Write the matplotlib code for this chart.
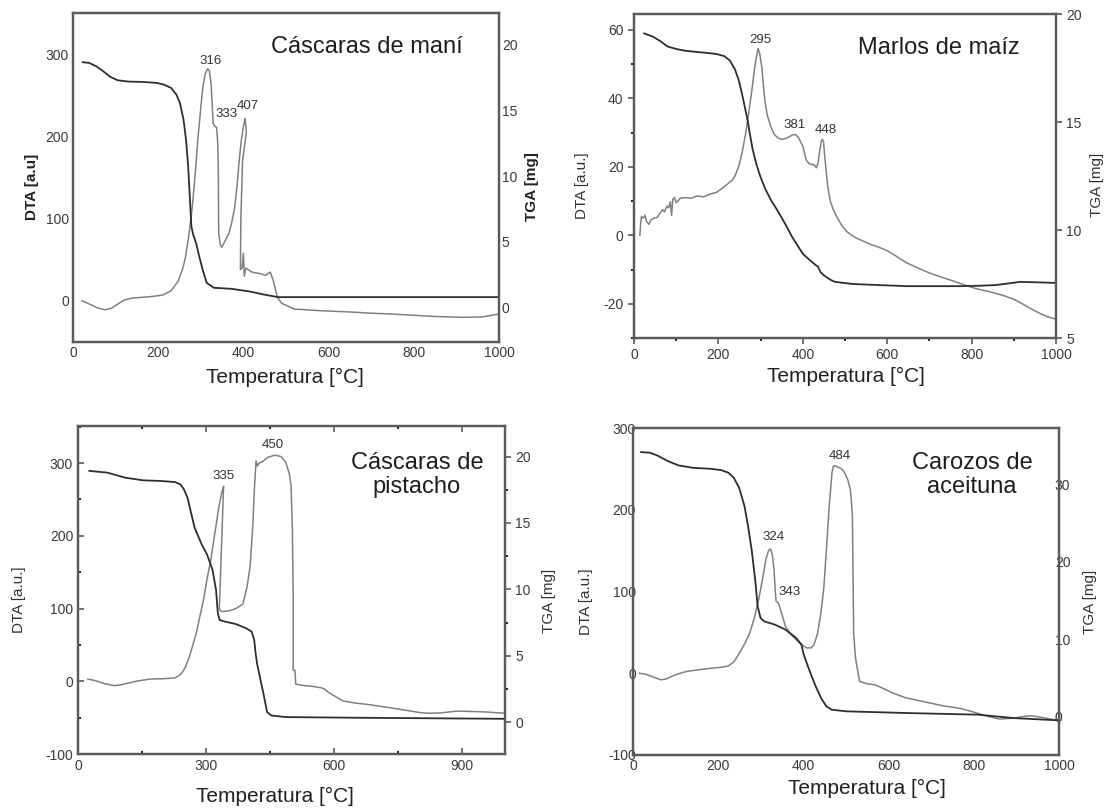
import matplotlib
matplotlib.use("Agg")
import matplotlib.pyplot as plt
from matplotlib.ticker import MultipleLocator

plt.rcParams['font.family'] = ['Liberation Sans', 'DejaVu Sans']
plt.rcParams['axes.unicode_minus'] = False

W, H = 1107, 810

# ---------------- data ----------------
# Panel 1: Cáscaras de maní
mani_dta_t = [21, 35, 55, 75, 90, 105, 120, 140, 180, 210, 230, 247, 258, 264, 272, 280, 287, 293, 300, 305,
              311, 316, 320, 324, 329, 333, 337, 340, 341, 342, 346, 349, 354, 360, 366, 372, 379, 385, 390,
              395, 400, 404, 407, 398, 394, 393, 397, 400, 402, 406, 420, 440, 452, 463, 470, 480, 490,
              520, 582, 650, 700, 749, 800, 850, 916, 960, 1000]
mani_dta = [0, -3, -8, -11, -9, -4, 1, 3.5, 5, 7, 12, 24, 40, 53, 80, 114, 155, 196, 235, 261,
            277, 282, 280, 265, 216, 212, 211, 190, 163, 82, 68, 65, 70, 76, 82, 94, 112, 139, 170,
            195, 212, 222, 205, 170, 100, 38, 40, 58, 30, 40, 35, 33, 31, 35, 25, 4, -3,
            -10, -12, -13.5, -15, -16, -17.5, -19, -20, -19.5, -16]
mani_tga_t = [22.6, 37.7, 54.4, 71.1, 87.9, 104.6, 129.7, 163.2, 196.7, 213.4, 230.1, 242.7, 251, 259.4,
              265.3, 270.3, 274.5, 277.8, 282, 288.7, 297.1, 305.4, 313.8, 330.5, 372.4, 414.2, 447.7,
              481.2, 1000]
mani_tga = [18.66, 18.61, 18.35, 17.97, 17.54, 17.29, 17.19, 17.16, 17.09, 16.96, 16.71, 16.2, 15.57, 14.3,
            12.78, 10.76, 8.23, 6.2, 5.57, 4.94, 3.8, 2.78, 1.9, 1.52, 1.44, 1.24, 1.01, 0.81, 0.81]
mani_peaks = ["316", "333", "407"]
mani_peak_pos = [(322, 292), (360, 227), (410, 237)]

# Panel 2: Marlos de maíz
marlo_dta_t = [14, 16, 18, 22, 26, 30, 35, 40, 48, 55, 62, 68, 72, 78, 82, 86, 89, 92, 96, 100, 110, 121, 135,
               150, 165, 180, 195, 210, 222, 232, 239, 248, 256, 265, 273, 280, 286, 290, 294, 298, 303, 307,
               311, 316, 324, 332, 341, 350, 358, 366, 375, 383, 390, 396, 400, 404, 408, 414, 421, 428, 432,
               436, 440, 444, 446, 449, 452, 456, 459, 465, 472, 480, 493, 505, 518, 530, 545, 560, 580, 600,
               620, 645, 670, 700, 730, 760, 790, 814, 840, 870, 899, 920, 941, 965, 985, 1000]
marlo_dta = [0, 4, 5.5, 5, 5.8, 4, 3.2, 4.5, 5, 5.2, 6.5, 7.5, 6.8, 8.5, 8, 9.8, 5.8, 10.5, 11, 9.5, 10.8, 11,
             10.8, 11.5, 11.2, 12, 12.5, 13.8, 15, 16, 17.3, 20, 24, 30, 36.7, 43, 49, 52, 54.5, 53, 49, 43,
             38.6, 35, 31.8, 29.5, 28.4, 28, 28.2, 28.6, 29.3, 29.4, 28.5, 27, 26, 24, 22, 21, 20.7, 20.5,
             19.7, 21, 24.6, 27.5, 28, 27.5, 23, 18, 14.4, 10, 7.6, 5.5, 2.7, 1, -0.2, -1, -1.8, -2.6, -3.5,
             -4.5, -6, -8, -9.4, -11, -12.3, -13.5, -14.8, -15.7, -16.4, -17.4, -18.6, -20, -21.5, -23, -24,
             -24.5]
marlo_tga_t = [24, 45, 62, 79, 100, 121, 150, 172, 195, 214, 227, 239, 248, 256, 262, 269, 275, 281, 290,
               298, 310, 324, 337, 349, 362, 374, 387, 400, 414, 429, 436, 442, 450, 459, 467, 476, 497, 518,
               580, 645, 710, 772, 820, 856, 885, 915, 950, 1000]
marlo_tga = [19.1, 18.95, 18.75, 18.5, 18.38, 18.3, 18.24, 18.2, 18.15, 18.05, 17.85, 17.45, 16.95, 16.3,
             15.75, 15.1, 14.4, 13.75, 13.05, 12.55, 11.95, 11.4, 11.0, 10.6, 10.15, 9.7, 9.3, 8.9, 8.65,
             8.4, 8.3, 8.05, 7.9, 7.78, 7.68, 7.6, 7.55, 7.5, 7.45, 7.4, 7.4, 7.4, 7.42, 7.45, 7.52, 7.6,
             7.58, 7.55]
marlo_peaks = ["295", "381", "448"]
marlo_peak_pos = [(300, 57), (381, 32.3), (455, 30.6)]

# Panel 3: Cáscaras de pistacho
pist_dta_t = [23, 40, 60, 85, 100, 119, 140, 169, 200, 227, 237, 244, 252, 261, 269, 277, 285, 294, 302, 311,
              317, 323, 330, 337, 341, 331, 335, 340, 355, 370, 386, 396, 403, 409, 413, 417, 420, 424, 432,
              445, 461, 475, 486, 495, 499, 502, 504, 504, 508, 510, 530, 550, 570, 578, 586, 600, 620, 650,
              680, 737, 780, 800, 820, 850, 887, 950, 1000]
pist_dta = [3, 1, -3, -6, -5, -2.3, 0.5, 3, 3.5, 4.6, 8, 12, 20, 34, 50, 66, 88, 112, 140, 167,
            190, 213, 240, 260, 268, 100, 96, 96, 97, 100, 106, 130, 158, 210, 263, 303, 296, 300, 302,
            308, 311, 309, 302, 285, 268, 210, 120, 15, 15, -4, -6, -7, -9, -11, -15, -20, -27, -30,
            -32, -37, -41, -43, -44, -43.5, -41, -42, -44]
pist_tga_t = [26.7, 68.5, 110.3, 152, 193.8, 227.2, 239.8, 248.1, 256.5, 264.8, 273.2, 281.5, 289.9, 302.4,
              314.9, 323.3, 327.5, 331.7, 344.2, 369.3, 394.3, 406.8, 412.7, 416, 419.4, 426, 434.4, 442.8,
              452.8, 486.2, 653.3, 1000]
pist_tga = [18.92, 18.79, 18.41, 18.21, 18.16, 18.08, 17.9, 17.53, 16.9, 15.76, 14.63, 14.0, 13.37, 12.61,
            11.48, 9.96, 8.2, 7.69, 7.57, 7.39, 7.06, 6.81, 6.18, 5.17, 4.41, 3.4, 2.14, 0.76,
            0.5, 0.38, 0.33, 0.25]
pist_peaks = ["335", "450"]
pist_peak_pos = [(340, 282), (457, 325)]

# Panel 4: Carozos de aceituna
acei_dta_t = [15, 28, 40, 55, 65, 78, 90, 105, 124, 150, 182, 210, 224, 237, 249, 262, 274, 285, 295, 304,
              312, 318, 323, 327, 331, 334, 336, 341, 348, 358, 370, 383, 395, 408, 418, 425, 433, 441, 448,
              454, 460, 467, 470, 475, 480, 487, 495, 504, 510, 512, 515, 518, 522, 525, 532, 550, 567, 585,
              609, 640, 684, 730, 768, 790, 809, 835, 860, 893, 915, 935, 960, 1000]
acei_dta = [0, -1, -3, -6, -8, -7, -4, -1, 2, 4, 6, 7.5, 9, 14, 24, 36, 49, 68, 90, 115,
            139, 150, 152, 145, 127, 100, 88, 86, 75, 57, 48, 41, 35, 31, 31, 35, 48, 73, 105,
            151, 200, 245, 253, 254, 252, 251, 247, 237, 225, 215, 192, 49, 20, 10, -10, -13, -14, -18,
            -24, -30, -35, -40, -43, -46, -49, -53, -56, -55, -53, -52, -54, -58]
acei_tga_t = [19.2, 40.1, 56.9, 81.9, 107, 140.5, 182.3, 207.4, 224.1, 236.6, 249.2, 261.7, 270.1, 278.4,
              286.8, 292.6, 299.3, 307.7, 332.8, 357.9, 382.9, 395.5, 399.7, 406.4, 416.4, 428.9, 441.5,
              454, 466.6, 500, 642.1, 809.4, 893, 1000]
acei_tga = [34.18, 34.1, 33.75, 33.02, 32.46, 32.15, 32.02, 31.85, 31.51, 30.86, 29.56, 27.19, 24.6, 21.58,
            17.69, 14.24, 12.73, 12.3, 11.87, 11.22, 10.14, 9.28, 8.2, 7.12, 5.61, 3.88, 2.37,
            1.29, 0.86, 0.65, 0.43, 0.22, -0.22, -0.52]
acei_peaks = ["324", "343", "484"]
acei_peak_pos = [(329, 167), (368, 99), (485, 266)]

# ---------------- figure ----------------
fig = plt.figure(figsize=(W / 100, H / 100), dpi=100)


def px(x, y):
    return x / W, 1 - y / H


def box(l, t, r, b):
    return [l / W, 1 - b / H, (r - l) / W, (b - t) / H]


DTA_C = '#808080'
TGA_C = '#2e2e2e'
SP_C = '#5a5a5a'
TICK_C = '#3a3a3a'


def make_panel(rect, dta_t, dta, tga_t, tga, ylim, y2lim, xt, yt, y2t, peaks, peak_pos, tickstyle):
    ax = fig.add_axes(rect)
    ax2 = ax.twinx()
    ax.plot(dta_t, dta, color=DTA_C, lw=1.1)
    ax2.plot(tga_t, tga, color=TGA_C, lw=1.3)
    ax.set_xlim(0, 1000)
    ax.set_ylim(*ylim)
    ax2.set_ylim(*y2lim)
    ax.set_xticks(xt)
    ax.set_yticks(yt)
    ax2.set_yticks(y2t)
    for a in (ax, ax2):
        for s in a.spines.values():
            s.set_color(SP_C)
            s.set_linewidth(1.6)
    ax.tick_params(labelsize=10, labelcolor=TICK_C, color=SP_C)
    ax2.tick_params(labelsize=10, labelcolor=TICK_C, color=SP_C)
    if tickstyle == 'none':
        ax.tick_params(axis='both', length=0, pad=3)
        ax2.tick_params(axis='y', length=0, pad=2)
    elif tickstyle == 'out':
        ax.tick_params(axis='both', which='major', direction='out', length=4, width=1.2)
        ax.tick_params(axis='both', which='minor', direction='out', length=2.5, width=1.2)
        ax2.tick_params(axis='y', which='major', direction='out', length=4, width=1.2)
    elif tickstyle == 'in':
        ax.tick_params(axis='both', which='major', direction='in', length=4, width=1.2, top=True)
        ax.tick_params(axis='both', which='minor', direction='in', length=2.5, width=1.2, top=True)
        ax2.tick_params(axis='y', which='major', direction='out', length=4, width=1.2)
        ax2.tick_params(axis='y', which='minor', direction='out', length=2.5, width=1.2)
    for lab, (x, y) in zip(peaks, peak_pos):
        ax.text(x, y, lab, fontsize=9.5, color='#333333', ha='center', va='center')
    return ax, ax2


# Panel 1
a1, b1 = make_panel(box(73, 13, 499, 342), mani_dta_t, mani_dta, mani_tga_t, mani_tga,
                    (-50, 350), (-2.6, 22.4), range(0, 1001, 200), [0, 100, 200, 300],
                    [0, 5, 10, 15, 20], mani_peaks, mani_peak_pos, 'none')

# Panel 2
a2, b2 = make_panel(box(634, 14, 1056, 338), marlo_dta_t, marlo_dta, marlo_tga_t, marlo_tga,
                    (-30, 64.6), (5, 20), range(0, 1001, 200), [-20, 0, 20, 40, 60],
                    [5, 10, 15, 20], marlo_peaks, marlo_peak_pos, 'out')
a2.xaxis.set_minor_locator(MultipleLocator(100))
a2.yaxis.set_minor_locator(MultipleLocator(10))

# Panel 3
a3, b3 = make_panel(box(78, 426, 505, 754), pist_dta_t, pist_dta, pist_tga_t, pist_tga,
                    (-100, 351), (-2.4, 22.3), [0, 300, 600, 900], [-100, 0, 100, 200, 300],
                    [0, 5, 10, 15, 20], pist_peaks, pist_peak_pos, 'in')
a3.xaxis.set_minor_locator(MultipleLocator(150))
a3.yaxis.set_minor_locator(MultipleLocator(50))
b3.yaxis.set_minor_locator(MultipleLocator(2.5))

# Panel 4
a4, b4 = make_panel(box(633, 428, 1059, 755), acei_dta_t, acei_dta, acei_tga_t, acei_tga,
                    (-100, 300), (-5, 37.3), range(0, 1001, 200), [-100, 0, 100, 200, 300],
                    [0, 10, 20, 30], acei_peaks, acei_peak_pos, 'none')
a4.tick_params(axis='y', pad=-2)
b4.tick_params(axis='y', pad=-3)

# ---------------- labels ----------------
def ftext(x, y, s, **kw):
    fig.text(*px(x, y), s, ha='center', va='center', **kw)


ftext(32, 187, 'DTA [a.u]', rotation=90, fontsize=11, fontweight='bold', color='#222222')
ftext(532, 187, 'TGA [mg]', rotation=90, fontsize=11, fontweight='bold', color='#222222')
ftext(285, 377, 'Temperatura [°C]', fontsize=15, color='#222222')

ftext(582, 186, 'DTA [a.u.]', rotation=90, fontsize=11, color='#333333')
ftext(1097, 185, 'TGA [mg]', rotation=90, fontsize=11, color='#333333')
ftext(846, 376, 'Temperatura [°C]', fontsize=15, color='#222222')

ftext(19, 600, 'DTA [a.u.]', rotation=90, fontsize=11, color='#333333')
ftext(549, 601, 'TGA [mg]', rotation=90, fontsize=11, color='#333333')
ftext(275, 796, 'Temperatura [°C]', fontsize=15, color='#222222')

ftext(586, 602, 'DTA [a.u.]', rotation=90, fontsize=11, color='#333333')
ftext(1090, 602, 'TGA [mg]', rotation=90, fontsize=11, color='#333333')
ftext(867, 788, 'Temperatura [°C]', fontsize=15, color='#222222')

# panel titles
ftext(367, 47, 'Cáscaras de maní', fontsize=17, color='#1e1e1e')
ftext(939, 48, 'Marlos de maíz', fontsize=17, color='#1e1e1e')
ftext(417, 475, 'Cáscaras de\npistacho', fontsize=17, color='#1e1e1e', linespacing=1.15)
ftext(972, 475, 'Carozos de\naceituna', fontsize=17, color='#1e1e1e', linespacing=1.15)

fig.savefig('out.png', dpi=100, facecolor='white')
